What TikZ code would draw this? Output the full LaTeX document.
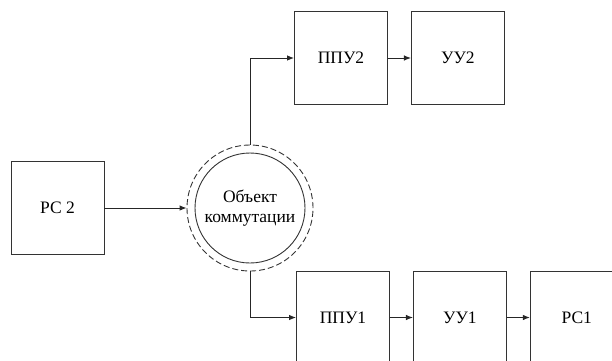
\documentclass[tikz,border=0pt]{standalone}
\usepackage{fontspec}
\setmainfont{Liberation Serif}
\newfontfamily\schemefont{Liberation Serif}
\usetikzlibrary{positioning,arrows.meta}

\begin{document}
\begin{tikzpicture}[x=1pt, y=-1pt, node distance=23pt, font=\schemefont\fontsize{17.5}{20}\selectfont]
        % Define block styles
        \tikzstyle{block} = [rectangle, draw=black!80, line width=0.9pt, minimum width=93pt, minimum height=93pt, inner sep=0pt]
        \tikzstyle{ring} = [circle, draw=black!80, line width=0.9pt, inner sep=0pt]
        \tikzstyle{line} = [draw=black!85, line width=0.9pt, -{Latex[length=7pt,width=5.5pt]}]
        \useasboundingbox (0,0) rectangle (612,360);
        \clip (0,0) rectangle (612,360);

        % Nodes
        \node [block] (rs2) at (57.5,208) {РС 2};
        \node [ring, minimum size=110pt, align=center] (obj) at (250,208) {Объект\\коммутации};
        \node [ring, dash pattern=on 6pt off 3pt, minimum size=126pt] (objring) at (obj) {};
        \node [block] (ppu2) at (341,58) {ППУ2};
        \node [block, right=of ppu2] (uu2) {УУ2};
        \node [block] (ppu1) at (343,317.5) {ППУ1};
        \node [block, right=of ppu1] (uu1) {УУ1};
        \node [block, right=of uu1] (rs1) {РС1};

        % Arrows
        \path [line] (rs2) -- (objring);
        \path [line] (objring.north) |- (ppu2);
        \path [line] (ppu2) -- (uu2);
        \path [line] (objring.south) |- (ppu1);
        \path [line] (ppu1) -- (uu1);
        \path [line] (uu1) -- (rs1);

    \end{tikzpicture}
\end{document}
